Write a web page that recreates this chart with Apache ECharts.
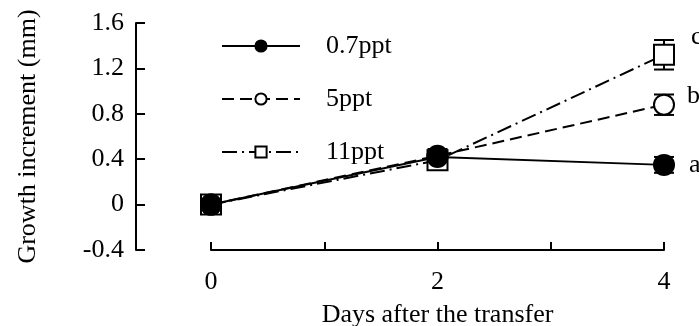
<!DOCTYPE html>
<html>
<head>
<meta charset="utf-8">
<script src="https://cdn.jsdelivr.net/npm/echarts@6/dist/echarts.min.js"></script>
<style>
  html, body { margin: 0; padding: 0; background: #fff; }
  #chart { width: 699px; height: 326px; }
</style>
</head>
<body>
<div id="chart"></div>
<script>
// Days after transfer and the labelled ticks on the x axis
const days = [0, 2, 4];
const xTickLabels = [0, 2, 4];
const yTicks = [-0.4, 0, 0.4, 0.8, 1.2, 1.6];

// Mean growth increment (mm) per salinity
const seriesNames = ['0.7ppt', '5ppt', '11ppt'];
const growth07 = [0, 0.42, 0.35];
const growth5 = [0, 0.43, 0.88];
const growth11 = [0, 0.39, 1.32];

// Error bar half-widths (mm)
const err07 = [0.02, 0.05, 0.07];
const err5 = [0.02, 0.06, 0.09];
const err11 = [0.02, 0.07, 0.13];

// Significance letters at the final day
const letters = ['a', 'b', 'c'];

const FONT = 'Liberation Serif';
const FS = 26;
const chart = echarts.init(document.getElementById('chart'), null, { renderer: 'canvas' });

const means = [growth07, growth5, growth11];
const errs = [err07, err5, err11];
const symbols = ['circle', 'circle', 'rect'];
const fills = ['#000', '#fff', '#fff'];
const dashes = ['solid', [12, 6], [15, 5, 2, 5]];
const letterOffsets = [[2, 0], [0, -9], [4, -18]];

function pts(vals) {
  return days.map((d, i) => [d, vals[i]]);
}

function errorSeries(k) {
  const data = days.map((d, i) => [d, means[k][i] - errs[k][i], means[k][i] + errs[k][i]]);
  return {
    type: 'custom',
    name: seriesNames[k] + ' err',
    z: 1,
    silent: true,
    data: data,
    renderItem: function (params, api) {
      const x = api.value(0);
      const lo = api.coord([x, api.value(1)]);
      const hi = api.coord([x, api.value(2)]);
      const hw = 10;
      const st = { stroke: '#000', lineWidth: 2 };
      return {
        type: 'group',
        children: [
          { type: 'line', shape: { x1: lo[0], y1: lo[1], x2: hi[0], y2: hi[1] }, style: st },
          { type: 'line', shape: { x1: lo[0] - hw, y1: lo[1], x2: lo[0] + hw, y2: lo[1] }, style: st },
          { type: 'line', shape: { x1: hi[0] - hw, y1: hi[1], x2: hi[0] + hw, y2: hi[1] }, style: st }
        ]
      };
    }
  };
}

function lineSeries(k) {
  const data = pts(means[k]).map((p, i) => {
    const item = { value: p };
    if (i === days.length - 1) {
      item.label = {
        show: true,
        formatter: letters[k],
        position: 'right',
        distance: 12,
        offset: letterOffsets[k],
        fontFamily: FONT,
        fontSize: FS,
        color: '#000'
      };
    }
    return item;
  });
  return {
    type: 'line',
    name: seriesNames[k],
    data: data,
    z: 3 + (2 - k),
    symbol: symbols[k],
    symbolSize: 20,
    showAllSymbol: true,
    itemStyle: { color: fills[k], borderColor: '#000', borderWidth: 2 },
    lineStyle: { color: '#000', width: 2, type: dashes[k] },
    emphasis: { disabled: true },
    animation: false
  };
}

const option = {
  animation: false,
  backgroundColor: '#fff',
  grid: { left: 211, right: 35, top: 23, bottom: 76, containLabel: false, outerBoundsMode: 'none' },
  legend: {
    orient: 'vertical',
    left: 216,
    top: 28,
    itemWidth: 78,
    itemHeight: 14,
    itemGap: 27,
    selectedMode: false,
    data: seriesNames,
    textStyle: { fontFamily: FONT, fontSize: FS, color: '#000', padding: [0, 0, 0, 21] }
  },
  xAxis: {
    type: 'value',
    min: 0,
    max: 4,
    interval: 1,
    name: 'Days after the transfer',
    nameLocation: 'middle',
    nameGap: 52,
    nameTextStyle: { fontFamily: FONT, fontSize: FS, color: '#000' },
    axisLine: { show: true, onZero: false, lineStyle: { color: '#000', width: 2 } },
    axisTick: { show: true, inside: true, length: 8, lineStyle: { color: '#000', width: 2 } },
    axisLabel: {
      fontFamily: FONT, fontSize: FS, color: '#000', margin: 19,
      formatter: v => (xTickLabels.indexOf(v) >= 0 ? String(v) : '')
    },
    splitLine: { show: false }
  },
  yAxis: {
    type: 'value',
    min: yTicks[0],
    max: yTicks[yTicks.length - 1],
    interval: 0.4,
    offset: 75,
    name: 'Growth increment (mm)',
    nameLocation: 'middle',
    nameGap: 95,
    nameTextStyle: { fontFamily: FONT, fontSize: FS, color: '#000' },
    axisLine: { show: true, onZero: false, lineStyle: { color: '#000', width: 2 } },
    axisTick: { show: true, inside: true, length: 9, lineStyle: { color: '#000', width: 2 } },
    axisLabel: {
      fontFamily: FONT, fontSize: FS, color: '#000', margin: 12,
      formatter: v => String(Math.round(v * 10) / 10)
    },
    splitLine: { show: false }
  },
  series: [errorSeries(0), errorSeries(1), errorSeries(2), lineSeries(2), lineSeries(1), lineSeries(0)]
};

chart.setOption(option);
</script>
</body>
</html>
